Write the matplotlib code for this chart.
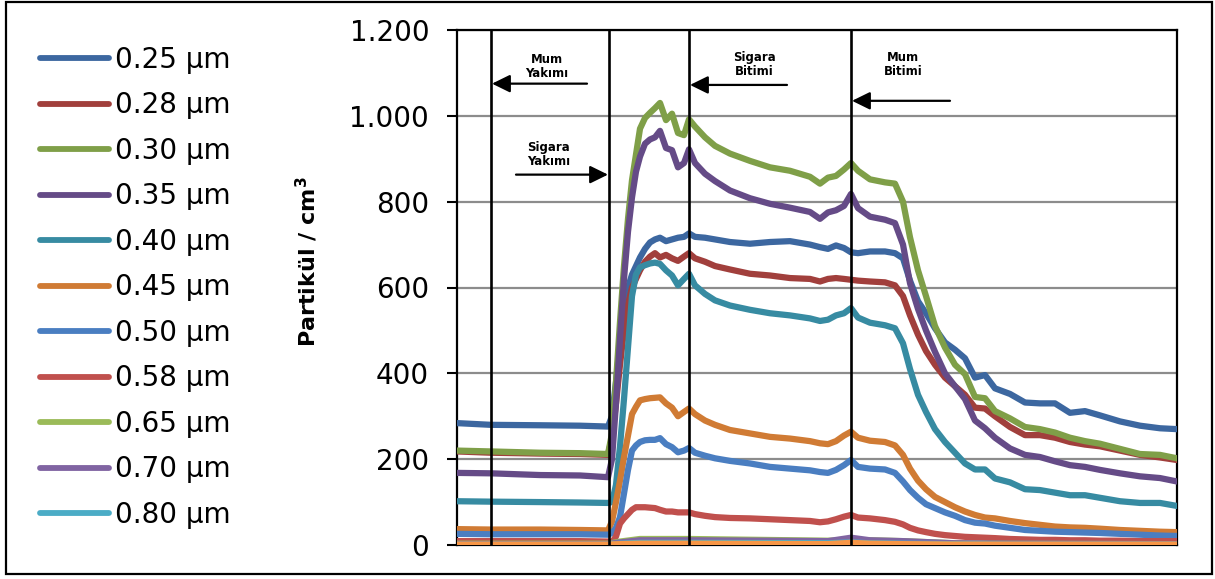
import matplotlib
matplotlib.use("Agg")
import matplotlib.pyplot as plt
from matplotlib.patches import Rectangle

plt.rcParams["font.family"] = ["DejaVu Sans"]

# elapsed time (arbitrary units) for the main series
t = [0, 3.4, 8.3, 12.3, 15.1, 15.5, 15.9, 16.3, 16.7, 17.1, 17.5, 17.9, 18.3, 18.8, 19.3,
     19.8, 20.3, 20.9, 21.5, 22.1, 22.7, 23.2, 23.8, 24.8, 25.8, 27.3, 29.3, 31.3, 33.3,
     35.3, 36.3, 37.1, 37.9, 38.7, 39.4, 40.1, 41.3, 42.8, 43.8, 44.6, 45.3, 46.1, 46.9,
     47.8, 48.8, 49.8, 50.8, 51.8, 52.8, 53.8, 55.3, 56.8, 58.3, 59.8, 61.3, 62.8, 64.3,
     66.3, 68.3, 70.3, 72.0]

p025 = [284, 280, 279, 278, 276, 300, 380, 470, 550, 600, 630, 650, 670, 690, 705,
        712, 716, 708, 712, 716, 718, 726, 718, 716, 712, 706, 702, 706, 708,
        700, 694, 690, 698, 692, 682, 680, 684, 684, 680, 668, 616, 568, 540,
        505, 472, 455, 435, 390, 396, 365, 352, 332, 330, 330, 308, 312, 302,
        288, 278, 272, 270]
p028 = [218, 215, 213, 212, 210, 250, 330, 420, 500, 560, 600, 620, 640, 660, 672,
        680, 670, 676, 668, 662, 672, 680, 668, 660, 650, 642, 632, 628, 622,
        620, 614, 620, 622, 620, 618, 616, 614, 612, 605, 580, 535, 490, 452,
        420, 390, 370, 350, 320, 318, 300, 275, 256, 256, 250, 240, 234, 230,
        220, 210, 204, 198]
p030 = [220, 218, 215, 214, 212, 260, 380, 520, 650, 760, 850, 910, 970, 995, 1007,
        1018, 1030, 990, 1005, 960, 955, 992, 975, 950, 930, 912, 895, 880, 872,
        858, 842, 856, 860, 875, 890, 872, 852, 845, 842, 800, 717, 640, 580,
        510, 460, 420, 398, 345, 342, 312, 295, 275, 270, 262, 250, 242, 236,
        224, 212, 210, 202]
p035 = [168, 167, 163, 162, 158, 200, 330, 480, 620, 730, 810, 870, 905, 935, 945,
        950, 965, 925, 920, 880, 890, 922, 890, 865, 848, 826, 808, 795, 786,
        776, 760, 775, 780, 790, 818, 785, 765, 758, 750, 700, 610, 550, 500,
        450, 400, 370, 340, 290, 272, 250, 225, 210, 205, 195, 186, 182, 175,
        167, 160, 156, 148]
p040 = [102, 101, 100, 99, 98, 100, 140, 230, 340, 460, 580, 630, 647, 652, 656,
        658, 655, 640, 628, 605, 620, 632, 605, 585, 570, 558, 548, 540, 535,
        528, 522, 525, 535, 540, 552, 530, 518, 512, 505, 470, 410, 350, 310,
        270, 240, 215, 190, 176, 176, 155, 146, 130, 128, 122, 116, 116, 110,
        102, 98, 98, 91]
p045 = [37, 36, 36, 35, 34, 55, 100, 150, 205, 255, 305, 322, 337, 340, 342,
        343, 344, 330, 320, 300, 310, 318, 305, 290, 280, 268, 260, 252, 248,
        242, 237, 235, 242, 255, 264, 250, 243, 240, 232, 210, 178, 150, 130,
        112, 100, 88, 78, 70, 64, 62, 56, 51, 47, 43, 41, 40, 38,
        35, 33, 31, 30]
p050 = [26, 25, 25, 25, 24, 28, 40, 65, 120, 175, 220, 232, 240, 244, 245,
        245, 249, 235, 228, 216, 220, 226, 215, 208, 202, 196, 190, 182, 178,
        174, 170, 168, 175, 186, 198, 182, 178, 176, 168, 148, 128, 110, 95,
        86, 76, 68, 58, 52, 50, 45, 40, 35, 33, 31, 30, 29, 28,
        26, 24, 22, 21]
p058 = [9, 9, 9, 9, 8, 6, 20, 50, 62, 72, 82, 88, 88, 88, 87,
        86, 82, 78, 78, 76, 76, 76, 72, 68, 65, 63, 62, 60, 58,
        56, 53, 55, 60, 66, 70, 64, 62, 58, 54, 48, 40, 34, 30,
        26, 23, 21, 19, 18, 17, 16, 14, 13, 12, 12, 11, 11, 10,
        10, 9, 9, 9]

# the smallest channels, read on a coarser time grid
t_small = [0, 15.1, 16.3, 18.3, 23.2, 37.1, 39.4, 41.3, 44.6, 49.8, 55.3, 72.0]
p065 = [3, 3, 8, 14, 14, 10, 12, 11, 9, 4, 3, 2]
p070 = [2, 2, 6, 11, 11, 9, 17, 11, 9, 4, 3, 2]
p080 = [1, 1, 3, 5, 5, 4, 6, 4, 3, 2, 1, 1]
p_extra = [1, 1, 2, 3, 3, 2, 5, 3, 2, 1, 1, 1]

labels = ["0.25 µm", "0.28 µm", "0.30 µm", "0.35 µm", "0.40 µm", "0.45 µm",
          "0.50 µm", "0.58 µm", "0.65 µm", "0.70 µm", "0.80 µm"]
colors = ["#3c67a0", "#a13f3c", "#7f9f48", "#654b87", "#378ba2", "#d07b34",
          "#4a7ec1", "#c0504d", "#9bbb59", "#8064a2", "#4bacc6", "#f79646"]

events = [3.4, 15.2, 23.2, 39.4]

fig = plt.figure(figsize=(12.15, 5.79), dpi=100)
ax = fig.add_axes([457 / 1215, 1 - 545 / 579, 720 / 1215, 515 / 579])

series = [(t, p025), (t, p028), (t, p030), (t, p035), (t, p040), (t, p045),
          (t, p050), (t, p058), (t_small, p065), (t_small, p070), (t_small, p080),
          (t_small, p_extra)]
for i, (xs, ys) in enumerate(series):
    lab = labels[i] if i < len(labels) else "_nolegend_"
    ax.plot(xs, ys, color=colors[i], lw=4.5, label=lab,
            solid_joinstyle="round", solid_capstyle="round", zorder=3)

for e in events:
    ax.axvline(e, color="black", lw=1.9, zorder=4)

ax.set_xlim(0, 72.0)
ax.set_ylim(0, 1200)
ax.set_yticks(range(0, 1201, 200))
ax.set_yticklabels(["0", "200", "400", "600", "800", "1.000", "1.200"], fontsize=20)
ax.set_xticks([])
ax.tick_params(axis="y", length=7, width=1.5, pad=13)
ax.grid(axis="y", color="#8c8c8c", lw=1.6, zorder=0)
ax.set_axisbelow(True)
for s in ax.spines.values():
    s.set_linewidth(1.6)
    s.set_color("black")

ax.set_ylabel("Partikül / cm$^\\mathbf{3}$", fontsize=16, fontweight="bold")
ax.yaxis.set_label_coords(-0.19, 0.55)

# event annotations
arrow = dict(arrowstyle="-|>,head_length=0.55,head_width=0.27", color="black",
             lw=1.6, mutation_scale=20, shrinkA=0, shrinkB=0)
notes = [("Mum\nYakımı", 9.0, 1116, (13.0, 1075), (3.5, 1075)),
         ("Sigara\nYakımı", 9.2, 909, (5.9, 863), (15.1, 863)),
         ("Sigara\nBitimi", 29.7, 1119, (33.0, 1072), (23.3, 1072)),
         ("Mum\nBitimi", 44.6, 1119, (49.3, 1035), (39.5, 1035))]
for txt, tx, ty, tail, head in notes:
    ax.text(tx, ty, txt, ha="center", va="center", fontsize=8.5,
            fontweight="bold", linespacing=1.1, zorder=5)
    ax.annotate("", xy=head, xytext=tail, arrowprops=arrow, zorder=5)

leg = fig.legend(loc="center left", bbox_to_anchor=(40 / 1215, 0.5035),
                 frameon=False, fontsize=20, handlelength=2.5, handletextpad=0.2,
                 labelspacing=0.63, borderpad=0, borderaxespad=0)
for h in leg.get_lines():
    h.set_linewidth(4.2)
    h.set_solid_capstyle("round")

fig.add_artist(Rectangle((6 / 1215, 1 - 574 / 579), 1206 / 1215, 572 / 579,
                         transform=fig.transFigure, fill=False, lw=1.6,
                         edgecolor="black"))

fig.savefig("out.png", dpi=100)
